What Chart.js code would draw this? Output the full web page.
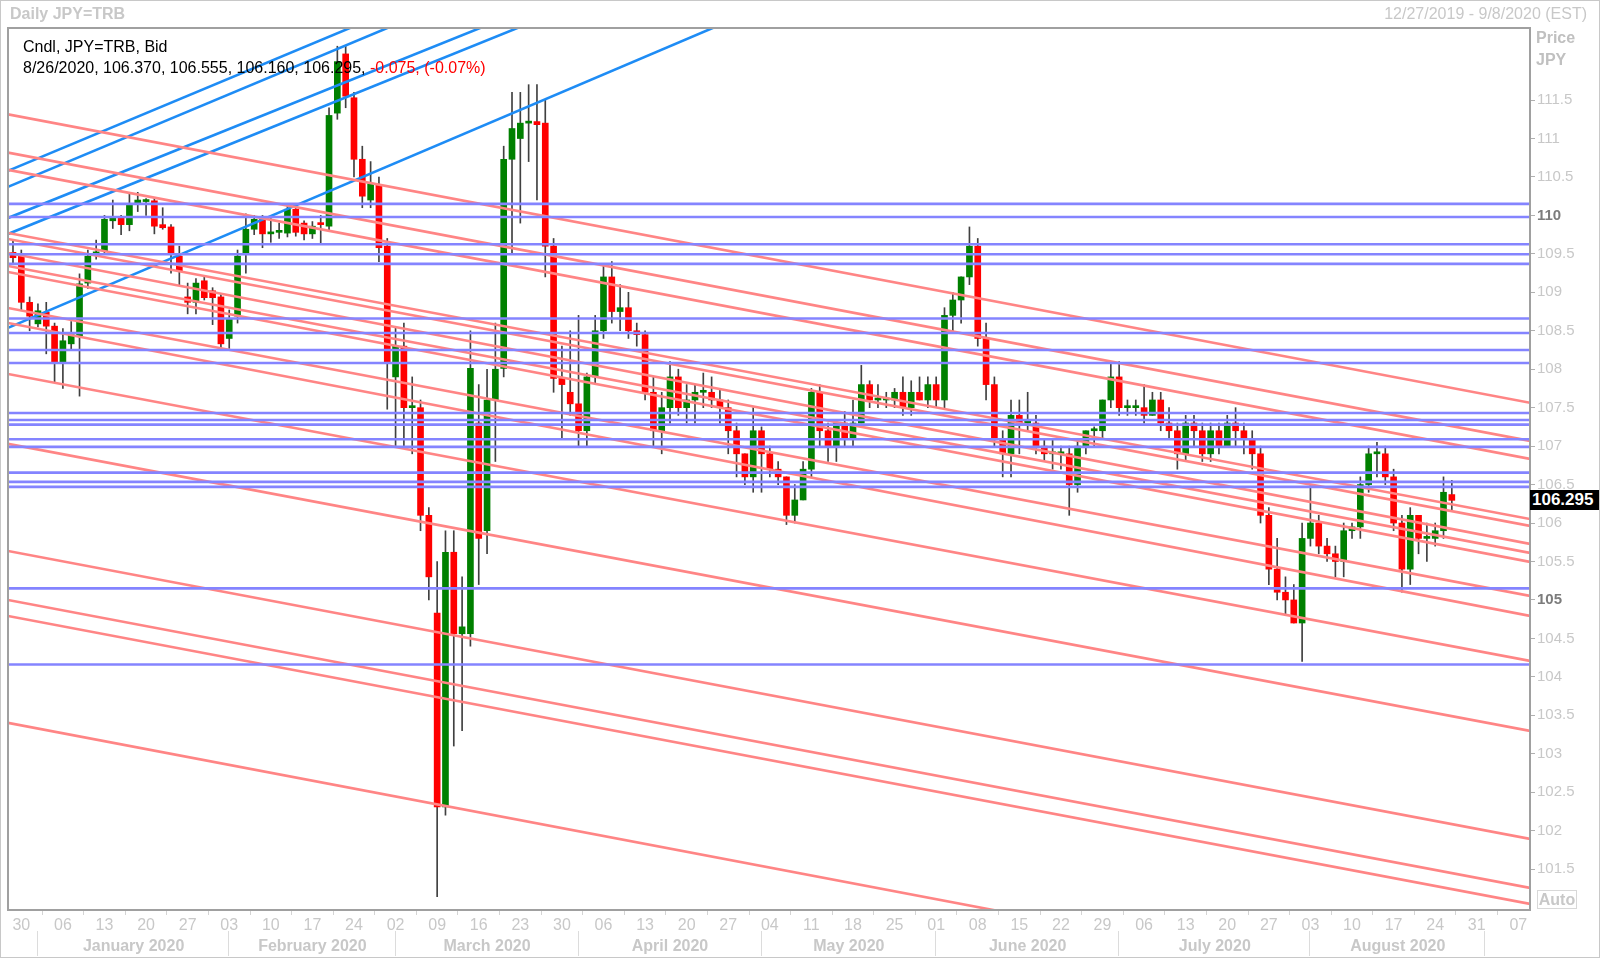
<!doctype html>
<html>
<head>
<title>Daily JPY=TRB</title>
<script src="https://cdnjs.cloudflare.com/ajax/libs/Chart.js/4.4.1/chart.umd.min.js"></script>
<style>
  body { margin: 0; background: #fff; }
  #wrap { position: relative; width: 1600px; height: 958px; font-family: 'Liberation Sans', Arial, sans-serif; }
  #frame { position: absolute; left: 0; top: 0; width: 1598px; height: 956px; border: 1px solid #c8c8c8; pointer-events: none; }
  .lbl { position: absolute; white-space: nowrap; line-height: 1; }
  #title { left: 10px; top: 6px; font-size: 16px; font-weight: bold; color: #c8c8c8; }
  #range { right: 13px; top: 6px; font-size: 16px; color: #c8c8c8; }
  .ax { left: 1536px; font-size: 16px; font-weight: bold; color: #c0c0c0; }
  .info { left: 23px; font-size: 16px; color: #000; }
  .neg { color: #ff0000; }
  #tag { left: 1530px; top: 490px; width: 68px; height: 20px; background: #000; color: #fff; font-weight: bold; font-size: 17px; line-height: 20px; padding-left: 2px; }
  #auto { left: 1537px; top: 890px; width: 38px; height: 17px; border: 1px solid #d8d8d8; color: #c8c8c8; font-weight: bold; font-size: 16px; line-height: 17px; text-align: center; }
</style>
</head>
<body>
<div id="wrap">
  <canvas id="chart" width="1600" height="958"></canvas>
  <div class="lbl" id="title">Daily JPY=TRB</div>
  <div class="lbl" id="range">12/27/2019 - 9/8/2020 (EST)</div>
  <div class="lbl ax" style="top:30px">Price</div>
  <div class="lbl ax" style="top:52px">JPY</div>
  <div class="lbl info" style="top:39px">Cndl, JPY=TRB, Bid</div>
  <div class="lbl info" style="top:60px">8/26/2020, 106.370, 106.555, 106.160, 106.295, <span class="neg">-0.075, (-0.07%)</span></div>
  <div class="lbl" id="tag">106.295</div>
  <div class="lbl" id="auto">Auto</div>
  <div id="frame"></div>
</div>
<script>
// trading days, index 0 = Fri 12/27/2019, one step per weekday
var xMin = -0.6, xMax = 182.4;
var yMin = 100.968, yMax = 112.437;

var weekLabels = ['30','06','13','20','27','03','10','17','24','02','09','16','23','30','06','13','20','27','04',
  '11','18','25','01','08','15','22','29','06','13','20','27','03','10','17','24','31','07'];
var monthStarts = [3, 26, 46, 68, 90, 111, 133, 156, 177];
var monthNames = ['January 2020','February 2020','March 2020','April 2020','May 2020','June 2020','July 2020','August 2020'];
var yTicks = [101.5,102,102.5,103,103.5,104,104.5,105,105.5,106,106.5,107,107.5,108,108.5,109,109.5,110,110.5,111,111.5];

var opens = [
  109.52,109.47,108.87,108.59,108.74,108.56,108.08,108.33,108.43,109.12,109.50,109.54,109.93,109.97,109.88,110.15,110.18,110.19,109.88,109.85,
  109.47,108.94,108.87,109.15,109.02,108.94,108.40,108.69,109.50,109.82,109.95,109.76,109.78,109.77,110.08,109.90,109.76,109.90,109.86,111.33,
  112.10,111.53,110.73,110.20,110.40,109.60,107.90,108.30,107.50,107.50,106.10,104.83,102.31,105.62,104.56,104.56,107.30,105.90,107.60,108.01,
  110.73,111.00,111.20,111.22,111.20,109.60,107.88,107.70,107.55,107.20,107.90,108.50,109.20,108.75,108.80,108.50,108.45,107.70,107.20,107.50,
  107.90,107.50,107.60,107.70,107.70,107.60,107.50,107.20,106.90,106.60,107.20,106.90,106.70,106.60,106.10,106.30,106.70,107.70,107.20,107.00,
  107.30,107.10,107.30,107.80,107.60,107.60,107.60,107.70,107.50,107.70,107.60,107.80,107.60,108.70,108.90,109.20,109.60,108.40,107.80,107.10,
  106.90,107.40,107.30,107.30,107.00,106.90,106.90,106.90,106.50,107.00,107.20,107.20,107.60,107.90,107.50,107.50,107.50,107.40,107.60,107.30,
  107.20,106.90,107.30,107.20,106.90,107.20,107.00,107.30,107.20,107.10,106.90,106.10,105.40,105.10,105.00,104.70,105.80,106.00,105.70,105.60,
  105.50,105.90,105.95,106.50,106.90,106.90,106.60,106.00,105.40,106.10,105.80,105.80,105.90,106.37];
var highs = [
  109.68,109.55,108.94,108.85,108.87,108.60,108.53,108.62,109.24,109.55,109.68,110.00,110.20,110.00,110.30,110.30,110.22,110.23,110.10,109.88,
  109.60,109.12,109.18,109.20,109.06,108.98,108.77,109.55,110.02,110.00,110.00,109.96,109.90,110.13,110.10,109.93,109.92,110.00,111.40,112.20,
  112.20,111.60,110.90,110.70,110.50,109.70,108.55,108.60,107.90,107.60,106.20,105.50,105.90,105.90,105.30,108.50,107.80,108.00,108.60,110.90,
  111.60,111.60,111.70,111.70,111.50,109.70,108.30,108.50,108.70,107.95,108.70,109.35,109.40,109.10,109.00,108.60,108.50,107.90,107.70,108.10,
  108.00,107.80,107.80,107.95,107.90,107.75,107.60,107.30,106.90,107.50,107.25,107.00,106.80,106.60,106.50,106.80,107.75,107.80,107.30,107.30,
  107.45,107.60,108.05,107.85,107.80,107.70,107.75,107.90,107.85,107.90,107.90,107.90,108.80,109.00,109.20,109.85,109.70,108.60,107.90,107.20,
  107.60,107.60,107.70,107.40,107.10,107.10,107.00,107.00,107.10,107.20,107.25,107.60,108.10,108.10,107.60,107.60,107.80,107.70,107.70,107.50,
  107.30,107.40,107.40,107.30,107.30,107.30,107.40,107.50,107.30,107.20,107.00,106.20,105.80,105.30,105.20,106.00,106.50,106.10,105.80,105.70,
  106.00,106.00,106.60,107.00,107.05,107.00,106.70,106.10,106.20,106.10,106.00,106.00,106.60,106.555];
var lows = [
  109.38,108.76,108.50,108.55,108.20,107.83,107.75,108.25,107.65,109.05,109.43,109.50,109.83,109.75,109.80,110.05,110.00,109.76,109.82,109.25,
  109.10,108.72,108.72,108.90,108.58,108.28,108.27,108.60,109.25,109.75,109.58,109.65,109.70,109.72,109.73,109.68,109.70,109.62,109.80,111.25,
  111.40,110.50,110.10,110.10,109.40,107.48,107.00,107.00,106.90,105.90,105.00,101.14,102.20,103.10,103.30,104.40,105.20,105.60,106.80,107.90,
  109.50,109.90,110.70,110.20,109.20,107.70,107.10,107.40,107.00,107.00,107.80,108.40,108.60,108.50,108.40,108.30,107.60,107.00,106.90,107.30,
  107.40,107.30,107.30,107.50,107.50,107.30,106.90,106.60,106.50,106.40,106.40,106.60,106.50,105.98,106.00,106.30,106.60,107.00,106.80,106.80,
  107.00,107.00,107.30,107.50,107.50,107.50,107.50,107.40,107.40,107.60,107.50,107.50,107.50,108.50,108.60,109.10,108.30,107.60,107.00,106.60,
  106.60,106.90,107.20,106.90,106.80,106.70,106.70,106.10,106.40,106.90,107.00,107.10,107.50,107.40,107.40,107.40,107.30,107.40,107.20,107.10,
  106.70,106.80,107.00,106.80,106.80,106.90,107.00,107.00,106.90,106.70,106.00,105.20,105.00,104.80,104.70,104.20,105.70,105.60,105.50,105.30,
  105.30,105.80,105.80,106.40,106.60,106.50,105.90,105.10,105.20,105.60,105.50,105.70,105.80,106.16];
var closes = [
  109.45,108.87,108.69,108.76,108.56,108.08,108.37,108.45,109.11,109.47,109.52,109.95,109.97,109.88,110.15,110.20,110.20,109.86,109.84,109.50,
  109.28,108.87,109.12,108.93,108.93,108.33,108.65,109.47,109.82,109.95,109.76,109.78,109.80,110.08,109.78,109.76,109.86,109.88,111.30,112.00,
  111.55,110.73,110.25,110.41,109.58,108.08,108.30,107.50,107.50,106.10,105.30,102.31,105.62,104.56,104.65,108.01,105.80,107.60,108.00,110.73,
  111.13,111.20,111.22,111.18,109.60,107.88,107.80,107.55,107.20,107.90,108.50,109.20,108.75,108.80,108.50,108.45,107.70,107.20,107.50,107.90,
  107.50,107.60,107.70,107.70,107.60,107.50,107.20,106.90,106.60,107.20,106.90,106.70,106.60,106.10,106.30,106.70,107.70,107.20,107.00,107.30,
  107.10,107.30,107.80,107.60,107.60,107.60,107.70,107.50,107.70,107.60,107.80,107.60,108.70,108.90,109.20,109.60,108.40,107.80,107.10,106.90,
  107.40,107.30,107.30,107.00,106.90,106.90,106.90,106.50,107.00,107.20,107.20,107.60,107.90,107.50,107.50,107.50,107.40,107.60,107.30,107.20,
  106.90,107.30,107.20,106.90,107.20,107.00,107.30,107.20,107.10,106.90,106.10,105.40,105.10,105.00,104.70,105.80,106.00,105.70,105.60,105.50,
  105.90,105.95,106.50,106.90,106.90,106.60,106.00,105.40,106.10,105.80,105.80,105.90,106.40,106.295];

// horizontal levels
var levels = [110.15,109.98,109.625,109.495,109.37,108.66,108.47,108.25,108.08,107.43,107.34,107.28,107.09,106.99,106.655,106.535,106.47,105.15,104.16];
// falling trend lines: value at left edge, value at right edge
var pinkLeft  = [111.314,110.817,110.592,109.772,109.694,109.512,109.343,109.265,108.797,108.602,107.939,107.029,105.637,105.000,104.792,103.401];
var pinkRight = [107.564,107.068,106.834,106.053,105.962,105.728,105.611,105.494,105.052,104.792,104.207,103.297,101.892,101.255,101.047,99.642];
// rising trend lines
var blueLeft  = [110.579,110.371,109.967,109.759,108.537];
var blueRight = [118.85,118.66,117.93,117.76,116.96];

var font = "'Liberation Sans', Arial, sans-serif";
var datasets = [];

function addLine(a, b, color) {
  datasets.push({
    type: 'line', data: [{x: xMin, y: a}, {x: xMax, y: b}],
    borderColor: color, borderWidth: 2.6, pointRadius: 0, order: 1, clip: 0
  });
}
levels.forEach(function(v) { addLine(v, v, '#8484ff'); });
pinkLeft.forEach(function(v, i) { addLine(v, pinkRight[i], '#ff8585'); });
blueLeft.forEach(function(v, i) { addLine(v, blueRight[i], '#1e8cf5'); });

datasets.push({
  type: 'bar', order: 5, grouped: false, barThickness: 1,
  data: lows.map(function(l, i) { return {x: i, y: [l, highs[i]]}; }),
  backgroundColor: '#404040'
});
datasets.push({
  type: 'bar', order: 4, grouped: false, barThickness: 6, minBarLength: 2,
  data: opens.map(function(o, i) { return {x: i, y: [o, closes[i]]}; }),
  backgroundColor: opens.map(function(o, i) { return closes[i] >= o ? '#008000' : '#ff0000'; })
});

function isMajor(c) { return c && c.tick && c.tick.value % 5 === 0; }

var separators = {
  id: 'separators',
  afterDraw: function(c) {
    var s = c.scales.x, g = c.ctx;
    g.save();
    g.strokeStyle = '#a0a0a0'; g.lineWidth = 2;
    var a = c.chartArea;
    g.strokeRect(a.left, a.top, a.right - a.left, a.bottom - a.top);
    g.strokeStyle = '#dcdcdc'; g.lineWidth = 1;
    monthStarts.forEach(function(m) {
      var px = Math.round(s.getPixelForValue(m)) - 0.5;
      g.beginPath(); g.moveTo(px, 931); g.lineTo(px, 956); g.stroke();
    });
    g.restore();
  }
};

new Chart(document.getElementById('chart'), {
  type: 'bar',
  data: { datasets: datasets },
  plugins: [separators],
  options: {
    responsive: false, animation: false, devicePixelRatio: 1,
    layout: { padding: { left: 8, top: 28, right: 0, bottom: 0 } },
    plugins: { legend: { display: false }, tooltip: { enabled: false } },
    scales: {
      x: {
        type: 'linear', min: xMin, max: xMax, position: 'bottom', offset: false,
        afterBuildTicks: function(s) { s.ticks = weekLabels.map(function(l, k) { return {value: 1 + 5 * k}; }); },
        afterFit: function(s) { s.height = 22; },
        ticks: { autoSkip: false, maxRotation: 0, padding: 1, color: '#c8c8c8', font: { family: font, size: 16 },
          callback: function(v, i) { return weekLabels[i]; } },
        grid: { drawOnChartArea: false, drawTicks: true, tickLength: 5, tickColor: '#d4d4d4' },
        border: { display: false }
      },
      xm: {
        type: 'linear', min: xMin, max: xMax, position: 'bottom', offset: false,
        afterBuildTicks: function(s) {
          s.ticks = monthNames.map(function(n, k) { return {value: (monthStarts[k] + monthStarts[k + 1]) / 2}; });
        },
        afterFit: function(s) { s.height = 26; },
        ticks: { autoSkip: false, maxRotation: 0, padding: 5, color: '#c8c8c8', font: { family: font, size: 16, weight: 'bold' },
          callback: function(v, i) { return monthNames[i]; } },
        grid: { display: false, drawTicks: false },
        border: { display: false }
      },
      y: {
        type: 'linear', position: 'right', min: yMin, max: yMax,
        afterBuildTicks: function(s) { s.ticks = yTicks.map(function(v) { return {value: v}; }); },
        afterFit: function(s) { s.width = 70; },
        ticks: { padding: 2,
          color: function(c) { return isMajor(c) ? '#7c7c7c' : '#c8c8c8'; },
          font: function(c) { return { family: font, size: 15, weight: isMajor(c) ? 'bold' : 'normal' }; },
          callback: function(v) { return String(v); } },
        grid: { drawOnChartArea: false, drawTicks: true, tickLength: 5, tickColor: '#b0b0b0' },
        border: { display: true, color: '#a0a0a0', width: 2 }
      }
    }
  }
});
</script>
</body>
</html>
